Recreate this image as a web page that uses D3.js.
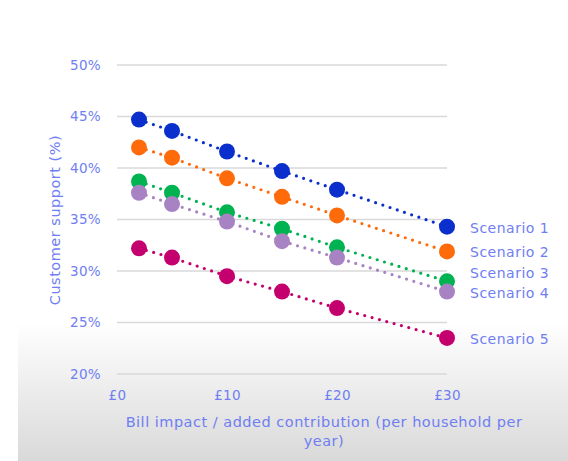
<!DOCTYPE html>
<html><head><meta charset="utf-8">
<script src="https://cdn.jsdelivr.net/npm/d3@7"></script>
<style>
html,body{margin:0;padding:0;background:#fff;}
svg{display:block;font-family:"DejaVu Sans",sans-serif;}
</style></head>
<body>
<script>
const billImpact = [2, 5, 10, 15, 20, 30];
const scenarioNames = ["Scenario 1", "Scenario 2", "Scenario 3", "Scenario 4", "Scenario 5"];
const scenario1 = [44.7, 43.6, 41.6, 39.7, 37.9, 34.3];
const scenario2 = [42.0, 41.0, 39.0, 37.2, 35.4, 31.9];
const scenario3 = [38.7, 37.6, 35.7, 34.1, 32.3, 29.0];
const scenario4 = [37.6, 36.5, 34.8, 32.9, 31.3, 28.0];
const scenario5 = [32.2, 31.3, 29.5, 28.0, 26.4, 23.5];
const colors = ["#0b2fcc", "#ff6a0a", "#00b351", "#a883c3", "#c4006f"];
const yTicks = [20, 25, 30, 35, 40, 45, 50];
const xTicks = [0, 10, 20, 30];
const xTitleLines = ["Bill impact / added contribution (per household per", "year)"];
const yTitle = "Customer support (%)";

const W = 568, H = 461;
const textColor = "#6f7ef2";
const svg = d3.select("body").append("svg").attr("width", W).attr("height", H);

// background gradient
const defs = svg.append("defs");
const grad = defs.append("linearGradient").attr("id", "bg").attr("x1", 0).attr("y1", 0).attr("x2", 0).attr("y2", 1);
grad.append("stop").attr("offset", "0%").attr("stop-color", "#ffffff");
grad.append("stop").attr("offset", "100%").attr("stop-color", "#d9d9d9");
svg.append("rect").attr("x", 18).attr("y", 322).attr("width", W - 18).attr("height", H - 322).attr("fill", "url(#bg)");

const x = d3.scaleLinear().domain([0, 30]).range([117, 447]);
const y = d3.scaleLinear().domain([20, 50]).range([374, 65]);

// gridlines
svg.append("g").selectAll("line").data(yTicks).join("line")
  .attr("x1", x(0)).attr("x2", x(30))
  .attr("y1", d => y(d)).attr("y2", d => y(d))
  .attr("stroke", "#d9d9d9").attr("stroke-width", 1.6);

// y axis labels
const yAxis = d3.axisLeft(y).tickValues(yTicks).tickFormat(d => d + "%").tickSize(0).tickPadding(16);
const gy = svg.append("g").attr("transform", `translate(${x(0)},0)`).call(yAxis);
gy.select(".domain").remove();
gy.selectAll("text").attr("fill", textColor).attr("font-size", 13.5).attr("letter-spacing", 0.3).attr("font-family", "DejaVu Sans, sans-serif");

// x axis labels
const xAxis = d3.axisBottom(x).tickValues(xTicks).tickFormat(d => "£" + d).tickSize(0).tickPadding(16);
const gx = svg.append("g").attr("transform", `translate(0,${y(20)})`).call(xAxis);
gx.select(".domain").remove();
gx.selectAll("text").attr("fill", textColor).attr("font-size", 13.5).attr("letter-spacing", 0.3).attr("font-family", "DejaVu Sans, sans-serif");

// titles
const xt = svg.append("text").attr("fill", textColor).attr("font-size", 14.5).attr("letter-spacing", 0.5).attr("text-anchor", "middle");
xTitleLines.forEach((l, i) => xt.append("tspan").attr("x", 324).attr("y", 427 + i * 19).text(l));
svg.append("text").attr("fill", textColor).attr("font-size", 14.5).attr("letter-spacing", 0.5).attr("text-anchor", "middle")
  .attr("transform", `translate(60,220) rotate(-90)`).text(yTitle);

// series
const series = [scenario1, scenario2, scenario3, scenario4, scenario5];
const line = d3.line().x((d, i) => x(billImpact[i])).y(d => y(d));
series.forEach((vals, si) => {
  const g = svg.append("g");
  g.append("path").attr("d", line(vals)).attr("fill", "none")
    .attr("stroke", colors[si]).attr("stroke-width", 3.2)
    .attr("stroke-linecap", "round").attr("stroke-dasharray", "0 7.6");
  g.selectAll("circle").data(vals).join("circle")
    .attr("cx", (d, i) => x(billImpact[i])).attr("cy", d => y(d))
    .attr("r", 8).attr("fill", colors[si]);
});

// end labels: push upper label up when two labels collide
const labels = series.map((v, i) => ({name: scenarioNames[i], py: y(v[v.length - 1]) + 1.5}));
const minGap = 20.5;
for (let i = labels.length - 1; i > 0; i--) {
  const a = labels[i - 1], b = labels[i];
  if (b.py - a.py < minGap) a.py = b.py - minGap;
}
svg.append("g").selectAll("text").data(labels).join("text")
  .attr("x", 470).attr("y", d => d.py).attr("dy", "0.35em")
  .attr("fill", textColor).attr("font-size", 14).attr("letter-spacing", 0.5).text(d => d.name);
</script>
</body></html>
